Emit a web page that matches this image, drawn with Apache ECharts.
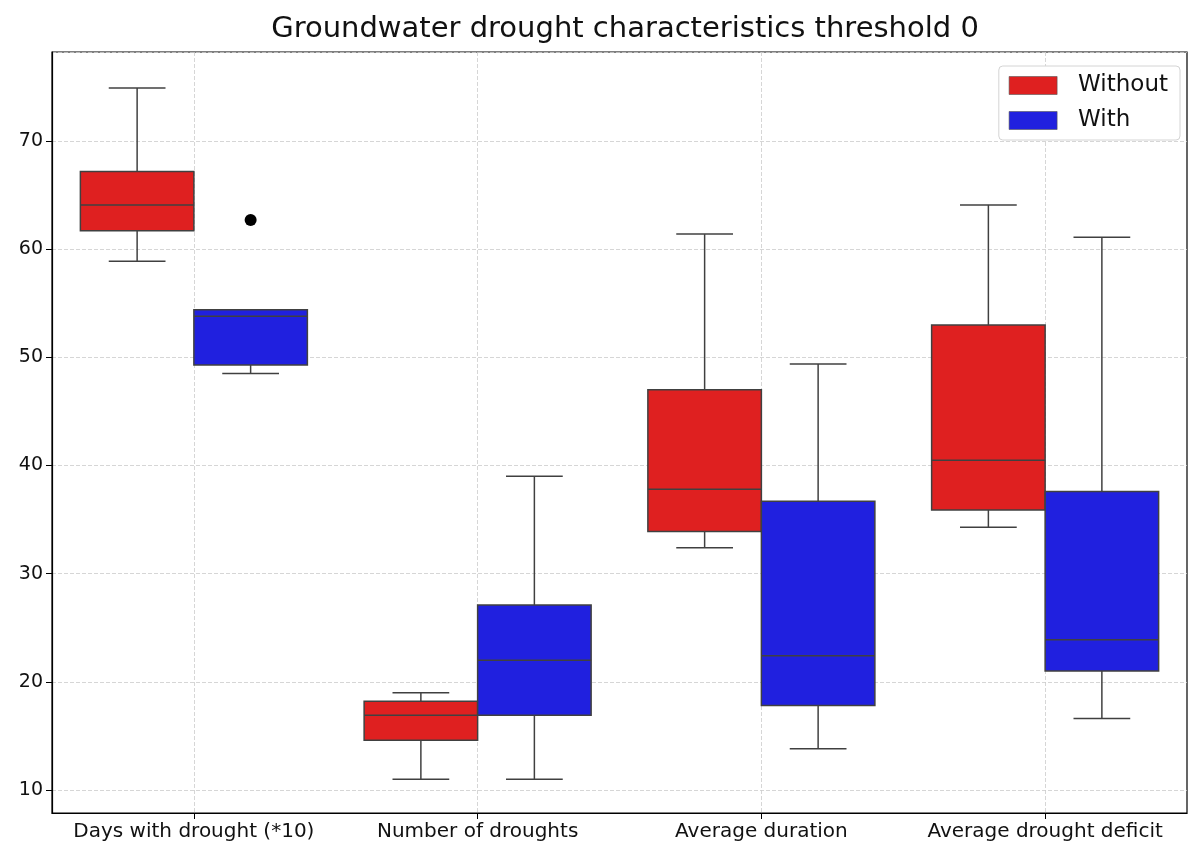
<!DOCTYPE html>
<html>
<head>
<meta charset="utf-8">
<title>Groundwater drought characteristics</title>
<script src="https://cdn.jsdelivr.net/npm/echarts@6/dist/echarts.min.js"></script>
<style>
  html, body { margin: 0; padding: 0; background: #fff; }
  #main { width: 1188px; height: 848px; }
</style>
</head>
<body>
<div id="main"></div>
<script>
// categories on the x axis
var categories = ['Days with drought (*10)', 'Number of droughts', 'Average duration', 'Average drought deficit'];

// box stats per category: [min, Q1, median, Q3, max]
var withoutStats = [
  [58.9, 61.7, 64.1, 67.2, 74.9],
  [11.0, 14.6, 16.9, 18.2, 19.0],
  [32.4, 33.9, 37.8, 47.0, 61.4],
  [34.3, 35.9, 40.5, 53.0, 64.1]
];
var withStats = [
  [48.5, 49.3, 53.8, 54.4, 54.4],
  [11.0, 16.9, 22.0, 27.1, 39.0],
  [13.8, 17.8, 22.4, 36.7, 49.4],
  [16.6, 21.0, 23.9, 37.6, 61.1]
];
// outliers: [category index, value]
var withOutliers = [[0, 62.7]];

var yMin = 7.87, yMax = 78.24;

var RED = '#df2020', BLUE = '#2020df', LINE = '#404040';
var FONT = 'DejaVu Sans';

function toRows(stats) {
  return stats.map(function (s, i) { return [i].concat(s); });
}

// side: -1 draws the box left of the category centre, +1 right of it
function boxRenderer(side) {
  return function (params, api) {
    var ci = api.value(0);
    var bw = api.size([1, 0])[0];
    var half = bw * 0.2;
    var cx = api.coord([ci, 0])[0] + side * half;
    var y = function (k) { return api.coord([ci, api.value(k)])[1]; };
    var yMinV = y(1), yQ1 = y(2), yMed = y(3), yQ3 = y(4), yMaxV = y(5);
    var capHalf = half / 2;
    var ls = { stroke: LINE, lineWidth: 1.5 };
    return {
      type: 'group',
      children: [
        { type: 'line', shape: { x1: cx, y1: yQ3, x2: cx, y2: yMaxV }, style: ls },
        { type: 'line', shape: { x1: cx, y1: yQ1, x2: cx, y2: yMinV }, style: ls },
        { type: 'line', shape: { x1: cx - capHalf, y1: yMaxV, x2: cx + capHalf, y2: yMaxV }, style: ls },
        { type: 'line', shape: { x1: cx - capHalf, y1: yMinV, x2: cx + capHalf, y2: yMinV }, style: ls },
        { type: 'rect', shape: { x: cx - half, y: yQ3, width: half * 2, height: yQ1 - yQ3 },
          style: { fill: api.visual('color'), stroke: LINE, lineWidth: 1.5 } },
        { type: 'line', shape: { x1: cx - half, y1: yMed, x2: cx + half, y2: yMed }, style: ls }
      ]
    };
  };
}

function outlierRenderer(side) {
  return function (params, api) {
    var ci = api.value(0);
    var bw = api.size([1, 0])[0];
    var p = api.coord([ci, api.value(1)]);
    return {
      type: 'circle',
      shape: { cx: p[0] + side * bw * 0.2, cy: p[1], r: 6 },
      style: { fill: '#000' }
    };
  };
}

var chart = echarts.init(document.getElementById('main'));
chart.setOption({
  backgroundColor: '#fff',
  animation: false,
  title: {
    text: 'Groundwater drought characteristics threshold 0',
    left: 620,
    textAlign: 'center',
    top: 10,
    textStyle: { fontFamily: FONT, fontSize: 29, fontWeight: 'normal', color: '#111' }
  },
  legend: {
    data: ['Without', 'With'],
    orient: 'vertical',
    right: 8,
    top: 66,
    icon: 'rect',
    itemWidth: 48,
    itemHeight: 18,
    itemGap: 12,
    padding: [8, 12, 8, 10],
    backgroundColor: '#fff',
    borderColor: '#d4d4d4',
    borderWidth: 1,
    borderRadius: 4,
    itemStyle: { borderColor: '#555', borderWidth: 0.6 },
    textStyle: { fontFamily: FONT, fontSize: 23, color: '#111', padding: [0, 0, 0, 16] }
  },
  grid: {
    left: 52, right: 1, top: 52, bottom: 35,
    show: true,
    borderColor: '#000',
    borderWidth: 1.2
  },
  xAxis: {
    type: 'category',
    data: categories,
    axisLine: { show: true, lineStyle: { color: '#000', width: 1.2 } },
    axisTick: { show: true, alignWithLabel: true, length: 6, lineStyle: { color: '#000' } },
    axisLabel: { fontFamily: FONT, fontSize: 20, color: '#111', margin: 9, interval: 0 },
    splitLine: { show: true, alignWithLabel: true, lineStyle: { color: '#cccccc', type: [4, 2], width: 0.8 } }
  },
  yAxis: {
    type: 'value',
    min: yMin,
    max: yMax,
    minInterval: 10,
    maxInterval: 10,
    axisLine: { show: true, lineStyle: { color: '#000', width: 1.2 } },
    axisTick: { show: true, length: 6, lineStyle: { color: '#000' } },
    axisLabel: { fontFamily: FONT, fontSize: 19, color: '#111', margin: 9, showMinLabel: false, showMaxLabel: false },
    splitLine: { show: true, lineStyle: { color: '#cccccc', type: [4, 2], width: 0.8 } }
  },
  series: [
    {
      name: 'Without',
      type: 'custom',
      data: toRows(withoutStats),
      encode: { x: 0, y: [1, 2, 3, 4, 5] },
      itemStyle: { color: RED },
      renderItem: boxRenderer(-1)
    },
    {
      name: 'With',
      type: 'custom',
      data: toRows(withStats),
      encode: { x: 0, y: [1, 2, 3, 4, 5] },
      itemStyle: { color: BLUE },
      renderItem: boxRenderer(1)
    },
    {
      name: 'With',
      type: 'custom',
      data: withOutliers,
      encode: { x: 0, y: 1 },
      itemStyle: { color: BLUE },
      renderItem: outlierRenderer(1)
    }
  ]
});
</script>
</body>
</html>
